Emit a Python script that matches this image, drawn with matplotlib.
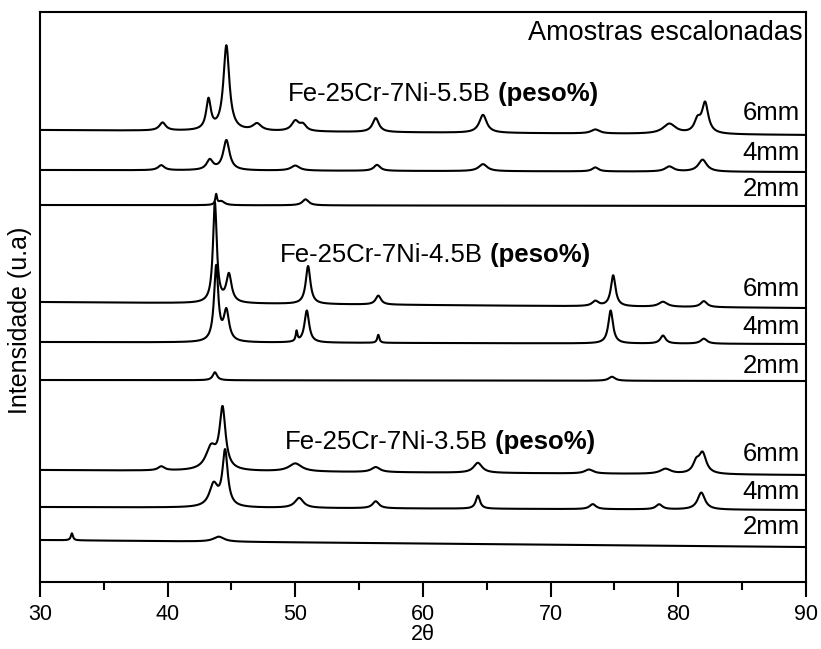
import matplotlib.pyplot as plt
import numpy as np

plt.rcParams['font.family'] = ['Liberation Sans', 'DejaVu Sans']

# peaks: (2theta, height, half width), heights in arbitrary units
p55_6 = [(39.6, 8, 0.3), (43.2, 30, 0.22), (44.6, 85, 0.28), (47.0, 7, 0.4), (50.0, 10, 0.35),
         (50.6, 6, 0.3), (56.3, 14, 0.3), (64.7, 18, 0.35), (73.5, 4, 0.4), (79.3, 10, 0.6),
         (81.5, 12, 0.3), (82.1, 30, 0.3)]
p55_4 = [(39.5, 5, 0.3), (43.3, 10, 0.3), (44.6, 30, 0.3), (50.0, 5, 0.4), (56.4, 6, 0.3),
         (64.7, 7, 0.4), (73.5, 4, 0.3), (79.3, 5, 0.4), (81.9, 12, 0.4)]
p55_2 = [(43.8, 10, 0.08), (44.2, 4, 0.3), (50.8, 6, 0.3)]
p45_6 = [(43.7, 100, 0.18), (44.8, 28, 0.25), (51.0, 38, 0.22), (56.5, 9, 0.25), (73.5, 5, 0.3),
         (74.9, 31, 0.22), (78.8, 5, 0.4), (82.0, 6, 0.3)]
p45_4 = [(43.8, 75, 0.2), (44.6, 30, 0.25), (50.1, 10, 0.08), (50.9, 32, 0.22), (56.5, 8, 0.1),
         (74.7, 33, 0.22), (78.8, 8, 0.25), (82.0, 5, 0.3)]
p45_2 = [(43.7, 8, 0.2), (74.8, 4, 0.3)]
p35_6 = [(39.5, 4, 0.3), (43.4, 22, 0.5), (44.3, 60, 0.28), (50.0, 8, 0.6), (56.3, 5, 0.4),
         (64.3, 10, 0.4), (73.0, 4, 0.4), (79.0, 5, 0.5), (81.4, 10, 0.3), (81.9, 20, 0.35)]
p35_4 = [(43.6, 22, 0.4), (44.5, 55, 0.25), (50.3, 10, 0.4), (56.3, 7, 0.3), (64.3, 13, 0.2),
         (73.3, 5, 0.3), (78.5, 5, 0.3), (81.8, 17, 0.35)]
p35_2 = [(32.5, 7, 0.1), (44.0, 5, 0.5)]

# background level at 30 and 90 degrees for each trace
bg55 = [(452, 447), (412, 410), (377, 376)]
bg45 = [(280, 274), (240, 238), (202, 201)]
bg35 = [(112, 107), (75, 72), (42, 35)]

grupos = [("Fe-25Cr-7Ni-5.5B", [p55_6, p55_4, p55_2], bg55),
          ("Fe-25Cr-7Ni-4.5B", [p45_6, p45_4, p45_2], bg45),
          ("Fe-25Cr-7Ni-3.5B", [p35_6, p35_4, p35_2], bg35)]
espessuras = ["6mm", "4mm", "2mm"]

fig = plt.figure(figsize=(8.21, 6.49), dpi=100)
ax = fig.add_axes([0.0487, 0.1032, 0.9330, 0.8783])

x = np.linspace(30, 90, 3000)


def padrao(picos, fundo):
    y = fundo[0] + (fundo[1] - fundo[0]) * (x - 30) / 60
    for c, h, w in picos:
        y = y + h / (1 + ((x - c) / w) ** 2)
    return y


rotulo_y = [(488, [469, 429, 393]), (327, [293, 255, 216]), (140, [128, 90, 55])]
rotulo_x = [49.4, 48.8, 49.2]

for (nome, tracos, fundos), (ya, ymm), xa in zip(grupos, rotulo_y, rotulo_x):
    for picos, fundo, esp, yt in zip(tracos, fundos, espessuras, ymm):
        ax.plot(x, padrao(picos, fundo), color='black', lw=1.5)
        ax.text(89.55, yt, esp, ha='right', va='center', fontsize=18.5)
    t = ax.text(xa, ya, nome, ha='left', va='center', fontsize=18.5)
    ax.annotate(" (peso%)", xy=(1, 0.5), xycoords=t, ha='left', va='center',
                fontsize=18.5, fontweight='bold')

ax.text(89.75, 549, "Amostras escalonadas", ha='right', va='center', fontsize=19.5)

ax.set_xlim(30, 90)
ax.set_ylim(0, 570)
ax.set_xticks(np.arange(30, 91, 10))
ax.set_xticks(np.arange(35, 90, 10), minor=True)
ax.set_yticks([])
ax.tick_params(axis='x', which='major', direction='out', length=11, width=1.5,
               labelsize=15.5, pad=5, top=False)
ax.tick_params(axis='x', which='minor', direction='out', length=6, width=1.5, top=False)
for s in ax.spines.values():
    s.set_linewidth(1.5)

ax.set_xlabel("2θ", fontsize=15.5, va='center')
ax.xaxis.set_label_coords(0.5, -0.092)
ax.set_ylabel("Intensidade (u.a)", fontsize=18)
ax.yaxis.set_label_coords(-0.011, 0.46)

fig.savefig("out.png", dpi=100)
